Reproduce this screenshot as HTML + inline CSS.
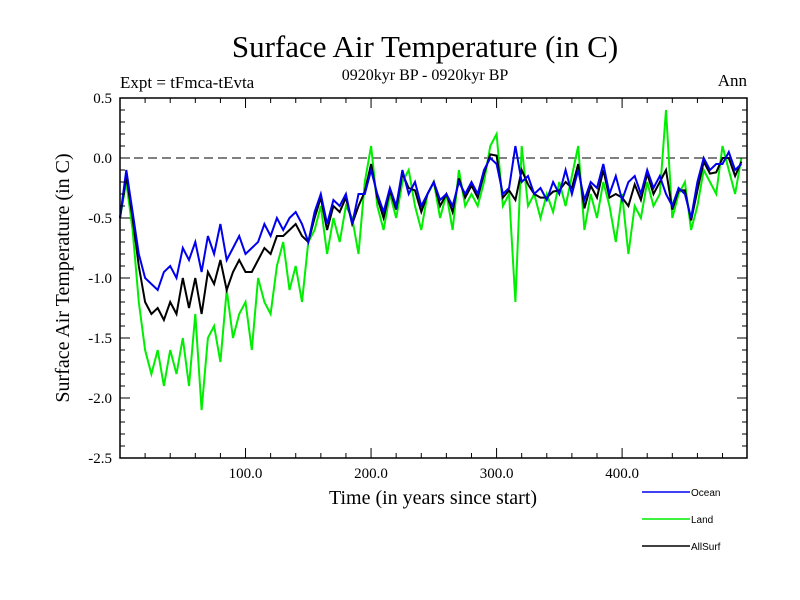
<!DOCTYPE html>
<html><head><meta charset="utf-8"><style>body{margin:0;background:#fff}svg{display:block}</style></head>
<body>
<svg id="chart" width="800" height="600" xmlns="http://www.w3.org/2000/svg" font-family="Liberation Serif, serif">
<text x="425" y="57" font-size="31" text-anchor="middle">Surface Air Temperature (in C)</text>
<text x="425" y="80" font-size="16" text-anchor="middle">0920kyr BP - 0920kyr BP</text>
<text x="120" y="88" font-size="17">Expt = tFmca-tEvta</text>
<text x="747" y="86" font-size="17" text-anchor="end">Ann</text>
<text transform="translate(69,278) rotate(-90)" font-size="20" text-anchor="middle">Surface Air Temperature (in C)</text>
<text x="433" y="504" font-size="20" text-anchor="middle">Time (in years since start)</text>
<g id="plot"></g>
<g id="axes"></g>
<g id="legend" font-family="Liberation Sans, sans-serif" font-size="10"></g>
</svg>
<script>
const years=[];for(let i=0;i<100;i++)years.push(i*5);
const ocean=[-0.5,-0.1,-0.45,-0.8,-1.0,-1.05,-1.1,-0.95,-0.9,-1.0,-0.75,-0.85,-0.7,-0.95,-0.65,-0.8,-0.55,-0.85,-0.75,-0.65,-0.8,-0.75,-0.7,-0.55,-0.65,-0.5,-0.6,-0.5,-0.45,-0.55,-0.7,-0.45,-0.3,-0.55,-0.35,-0.4,-0.3,-0.55,-0.3,-0.3,-0.1,-0.3,-0.45,-0.25,-0.4,-0.1,-0.3,-0.2,-0.4,-0.3,-0.2,-0.35,-0.3,-0.4,-0.2,-0.3,-0.2,-0.3,-0.1,0.0,-0.05,-0.3,-0.25,0.1,-0.2,-0.15,-0.3,-0.25,-0.35,-0.2,-0.3,-0.1,-0.3,-0.1,-0.35,-0.2,-0.25,-0.05,-0.3,-0.15,-0.35,-0.2,-0.15,-0.3,-0.1,-0.25,-0.15,-0.3,-0.4,-0.25,-0.3,-0.5,-0.2,0.0,-0.1,-0.05,-0.05,0.05,-0.1,-0.05];
const land=[-0.5,-0.2,-0.6,-1.2,-1.6,-1.8,-1.6,-1.9,-1.6,-1.8,-1.5,-1.9,-1.3,-2.1,-1.5,-1.4,-1.7,-1.1,-1.5,-1.3,-1.2,-1.6,-1.0,-1.2,-1.3,-0.9,-0.7,-1.1,-0.9,-1.2,-0.7,-0.6,-0.4,-0.8,-0.5,-0.7,-0.4,-0.5,-0.8,-0.2,0.1,-0.4,-0.6,-0.3,-0.5,-0.2,-0.1,-0.4,-0.6,-0.3,-0.2,-0.5,-0.3,-0.6,-0.1,-0.4,-0.3,-0.4,-0.2,0.1,0.2,-0.4,-0.3,-1.2,0.1,-0.4,-0.3,-0.5,-0.3,-0.45,-0.2,-0.4,-0.15,0.1,-0.6,-0.3,-0.5,-0.2,-0.4,-0.7,-0.3,-0.8,-0.4,-0.5,-0.2,-0.4,-0.3,0.4,-0.5,-0.3,-0.2,-0.6,-0.4,-0.1,-0.2,-0.3,0.1,-0.1,-0.3,0.0];
const allsurf=[-0.5,-0.15,-0.5,-0.9,-1.2,-1.3,-1.25,-1.35,-1.2,-1.3,-1.0,-1.25,-1.0,-1.3,-0.95,-1.05,-0.85,-1.1,-0.95,-0.85,-0.95,-0.95,-0.85,-0.75,-0.8,-0.65,-0.65,-0.6,-0.55,-0.65,-0.7,-0.5,-0.33,-0.6,-0.4,-0.45,-0.33,-0.55,-0.4,-0.28,-0.05,-0.33,-0.5,-0.27,-0.43,-0.13,-0.25,-0.27,-0.45,-0.3,-0.2,-0.4,-0.3,-0.45,-0.17,-0.33,-0.23,-0.33,-0.13,0.03,0.02,-0.33,-0.27,-0.35,-0.1,-0.22,-0.3,-0.33,-0.33,-0.28,-0.27,-0.2,-0.25,-0.05,-0.42,-0.23,-0.33,-0.1,-0.33,-0.3,-0.33,-0.4,-0.22,-0.35,-0.13,-0.3,-0.2,-0.1,-0.43,-0.27,-0.27,-0.52,-0.27,-0.03,-0.13,-0.12,-0.0,0.0,-0.15,-0.03];
const yTicks=[0.5,0.0,-0.5,-1.0,-1.5,-2.0,-2.5];
const xTicks=[100,200,300,400];
const ns='http://www.w3.org/2000/svg';
const X0=120,X1=747,Y0=98,Y1=458;
const xs=v=>X0+(v/499.5)*(X1-X0);
const ys=v=>Y0+(0.5-v)*(Y1-Y0)/3;
function el(t,a,p){const e=document.createElementNS(ns,t);for(const k in a)e.setAttribute(k,a[k]);p.appendChild(e);return e;}
const plot=document.getElementById('plot'),axes=document.getElementById('axes'),leg=document.getElementById('legend');
const zl=el('line',{x1:X0,x2:X1,y1:ys(0),y2:ys(0),stroke:'#000','stroke-dasharray':'9,5','stroke-width':1},plot);


function series(arr,col,name){const d=arr.map((v,i)=>(i?'L':'M')+xs(years[i]).toFixed(1)+','+ys(v).toFixed(1)).join('');
const p=el('path',{d:d,fill:'none',stroke:col,'stroke-width':2},plot);

}
series(land,'#00ee00','land-series');
series(allsurf,'#000','allsurf-series');
series(ocean,'#0000ee','ocean-series');
const fr=el('rect',{x:X0,y:Y0,width:X1-X0,height:Y1-Y0,fill:'none',stroke:'#000','stroke-width':1.5},axes);


for(let v=-2.5;v<=0.501;v+=0.1){const y=ys(v);const maj=Math.abs(v*2-Math.round(v*2))<1e-6;const L=maj?10:5;
el('line',{x1:X0,x2:X0+L,y1:y,y2:y,stroke:'#000'},axes);el('line',{x1:X1,x2:X1-L,y1:y,y2:y,stroke:'#000'},axes);}
yTicks.forEach(v=>{const t=el('text',{x:X0-8,y:ys(v)+5,'font-size':15,'text-anchor':'end'},axes);t.textContent=v.toFixed(1);

});
for(let v=20;v<500;v+=20){const x=xs(v);const L=v%100===0?10:5;
el('line',{x1:x,x2:x,y1:Y1,y2:Y1-L,stroke:'#000'},axes);el('line',{x1:x,x2:x,y1:Y0,y2:Y0+L,stroke:'#000'},axes);}
xTicks.forEach(v=>{const t=el('text',{x:xs(v),y:Y1+20,'font-size':15,'text-anchor':'middle'},axes);t.textContent=v.toFixed(1);

});
[['Ocean','#0000ee',492],['Land','#00ee00',519],['AllSurf','#000',546]].forEach(e=>{
const g=el('g',{},leg);


el('line',{x1:642,x2:690,y1:e[2],y2:e[2],stroke:e[1],'stroke-width':1.5},g);
const t=el('text',{x:691,y:e[2]+4},g);t.textContent=e[0];});
</script>
</body></html>
